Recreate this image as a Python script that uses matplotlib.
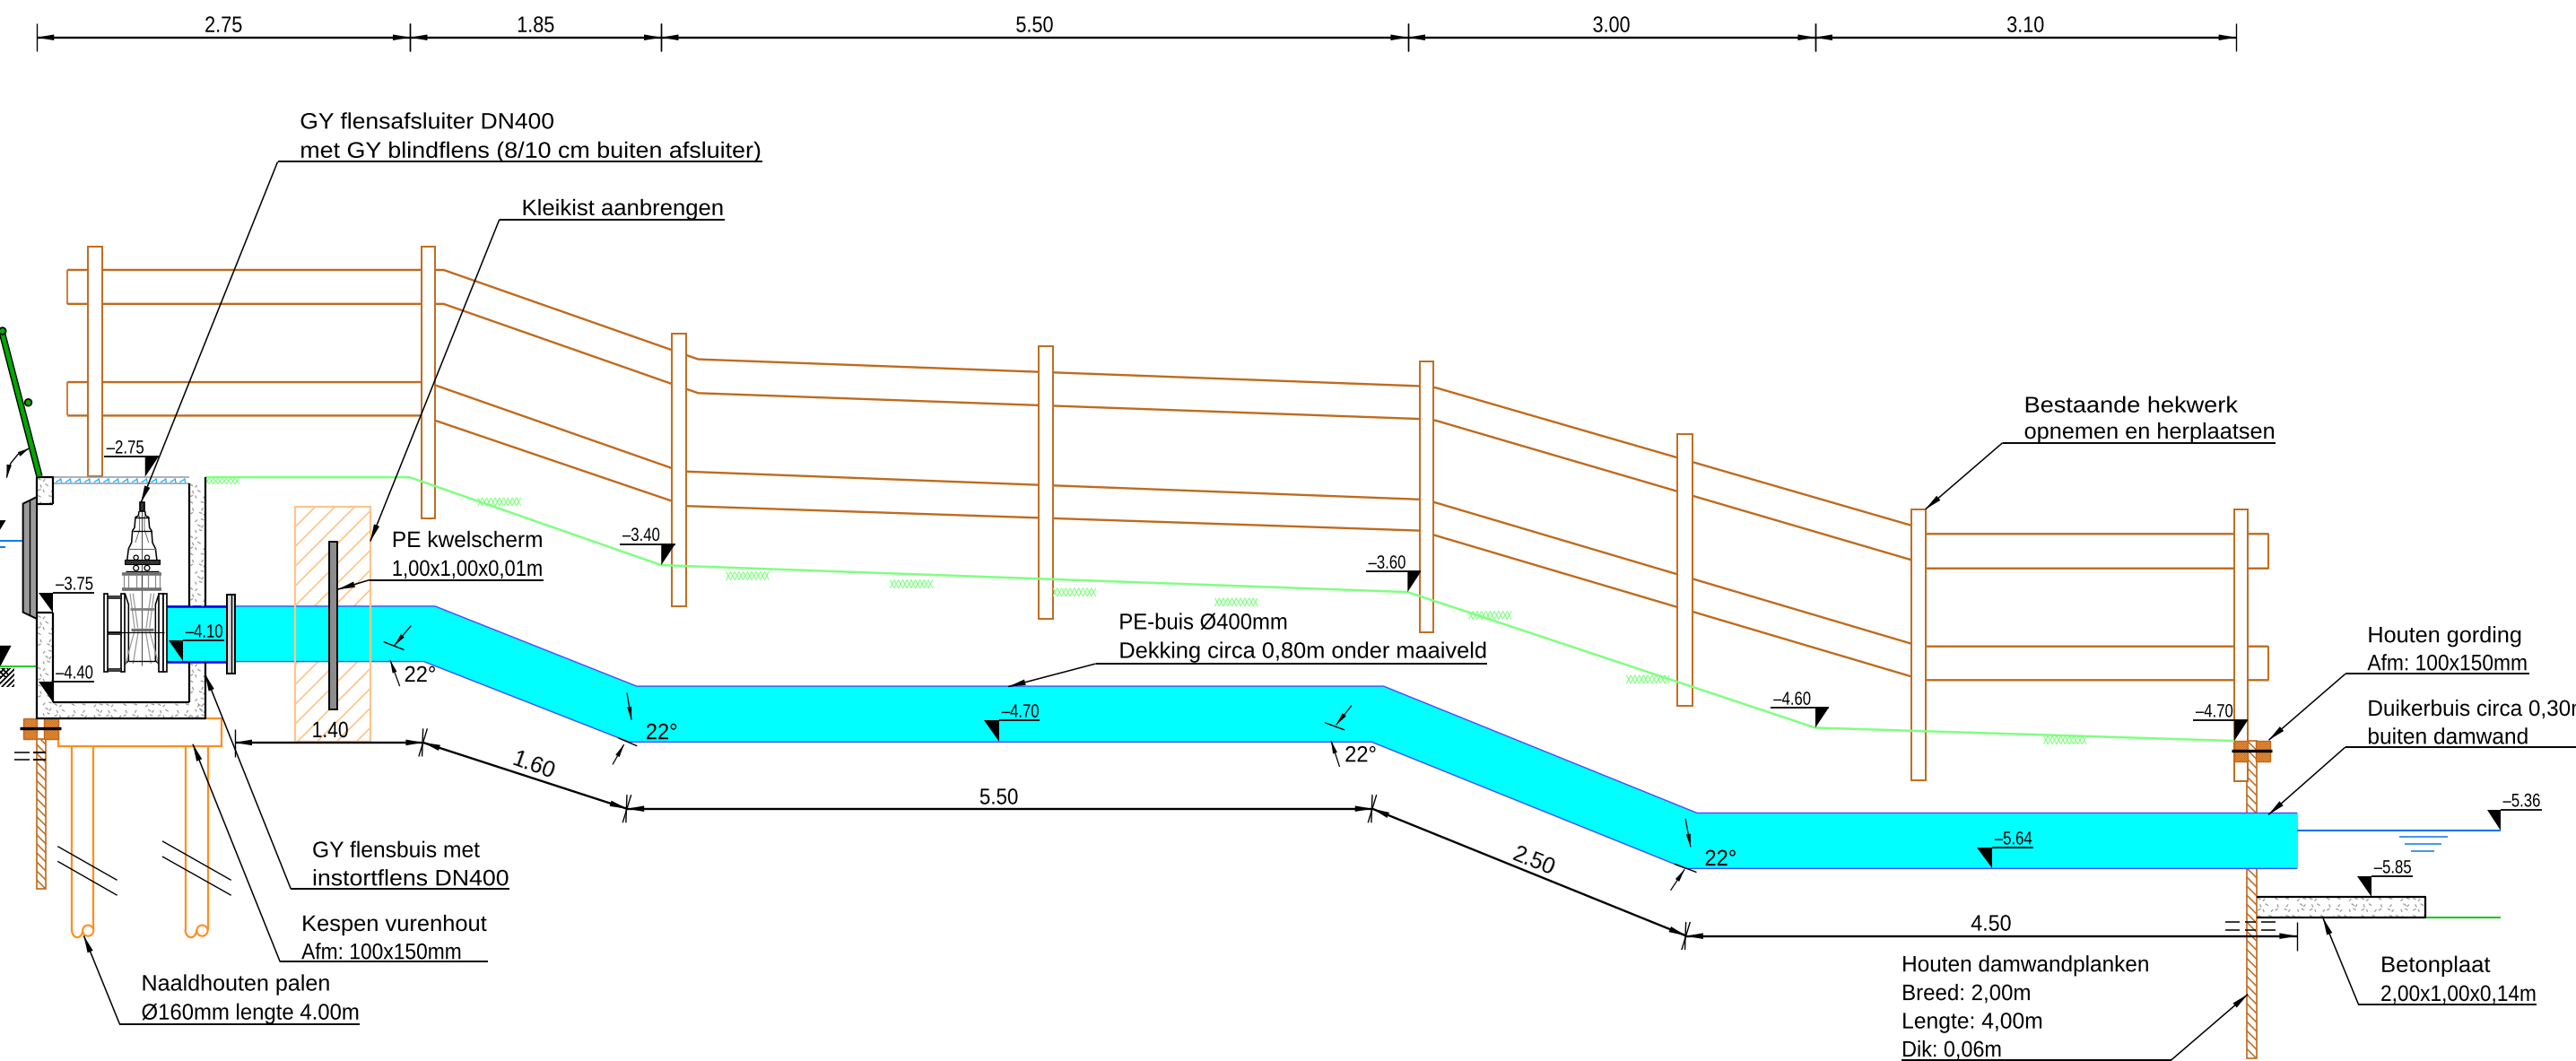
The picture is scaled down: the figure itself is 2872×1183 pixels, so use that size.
import numpy as np
import matplotlib
matplotlib.use('Agg')
from matplotlib import pyplot as plt
from matplotlib.patches import Polygon, Rectangle, Circle
from matplotlib.patheffects import AbstractPathEffect
from matplotlib.transforms import Affine2D

# all drawing coordinates: 1568 wide sheet units, y downwards
K = 2872 / 1568

BROWN = '#C06A1C'
ORANGE = '#FF8E1E'
LIGHT_ORANGE = '#FFC48A'
LGREEN = '#80FF80'
CYAN = '#00FFFF'
EDGE_BLUE = '#4A4AFF'
WATER = '#0A78F0'

# top dimension chain (m)
top_lengths = [2.75, 1.85, 5.50, 3.00, 3.10]
top_labels = ['2.75', '1.85', '5.50', '3.00', '3.10']
top_start = 22.4
top_scale = 82.63

# fence posts: left, right, top, bottom
posts = [(53.3, 62, 150, 290), (256.4, 265, 150, 315.5), (408.8, 417.6, 203, 369),
         (632.2, 640.8, 211, 376.7), (864, 872.6, 220, 385), (1021, 1030, 264, 429.5),
         (1163.6, 1172.2, 310, 475), (1359.8, 1368.3, 310, 475.6)]

# fence rails
rail_x = [41, 270, 425, 864, 874, 1164, 1172, 1381]
rail_1 = [164.3, 164.3, 218.7, 235, 236, 320, 325, 325]
rail_2 = [185, 185, 239.3, 255, 256, 341, 346, 346]
rail_x_low = [41, 256, 265, 409, 417, 864, 874, 1164, 1172, 1381]
rail_3 = [232.6, 232.6, 234.5, 285, 287, 304, 306, 392, 393.5, 393.5]
rail_4 = [253, 253, 256, 305, 308, 323, 326, 412, 414, 414]

# ground level
ground_x = [125, 249.3, 402.5, 856.8, 1105, 1360]
ground_y = [290.5, 290.5, 344, 360.4, 443, 451]
grass_x = [291, 442, 541.7, 641, 739.5, 894, 990, 1244]
grass_y = [303, 348, 353, 358, 364, 372, 411, 448]

# culvert pipe outline
pipe_top_x = [101.4, 264.8, 387.5, 842.2, 1033, 1398.3]
pipe_top_y = [369, 369, 417.7, 417.7, 494.9, 494.9]
pipe_bot_x = [1398.3, 1026, 835, 383, 258, 101.4]
pipe_bot_y = [528.7, 528.7, 451.7, 451.7, 402.7, 402.7]

# level marks: text, line start, line end, line y, triangle x-left, triangle x-right, tip x, tip y
levels = [('–2.75', 63.3, 96.5, 278, 88.3, 96.5, 88.3, 290.3),
          ('–3.75', 32.4, 57.3, 361, 23.7, 32.4, 32.4, 373),
          ('–4.40', 32.4, 57.3, 415, 23.7, 32.4, 32.4, 427.6),
          ('–4.10', 111.4, 136.5, 390, 102.8, 111.4, 111.4, 402.5),
          ('–3.40', 377.4, 411, 331.2, 402.5, 411, 402.5, 344),
          ('–3.60', 831.4, 864.9, 348, 856.8, 864.9, 856.8, 360.4),
          ('–4.60', 1078, 1113, 431, 1105, 1113, 1105, 443),
          ('–4.70', 1335, 1368.2, 438.5, 1360, 1368.2, 1360, 451),
          ('–5.36', 1522, 1547, 493, 1513.7, 1522, 1522, 505.7),
          ('–5.85', 1443.5, 1468.4, 533.5, 1435, 1443.5, 1443.5, 545.8),
          ('–4.70', 608.2, 633, 438.6, 599, 608.2, 608.2, 451.7),
          ('–5.64', 1212.6, 1237.5, 516, 1203.3, 1212.6, 1212.6, 528.7)]

# callouts: text lines, x, baselines, line widths, underline start, end, y, arrow tip
callouts = [
    (['GY flensafsluiter DN400', 'met GY blindflens (8/10 cm buiten afsluiter)'], 182.5, [78.3, 96], [155, 281], 169, 464, 98.5, (85.8, 306)),
    (['Kleikist aanbrengen'], 317.5, [131], [123], 304, 441, 133.6, (225.4, 329.5)),
    (['Bestaande hekwerk', 'opnemen en herplaatsen'], 1232, [251, 267], [130, 153], 1219, 1385, 269.5, (1172, 310)),
    (['PE kwelscherm', '1,00x1,00x0,01m'], 238.5, [333, 350.5], [92, 92], 225, 331, 353, (205.6, 358.8)),
    (['PE-buis Ø400mm', 'Dekking circa 0,80m onder maaiveld'], 681, [383, 400.5], [103, 224], 667, 905, 404, (613.8, 418)),
    (['Houten gording', 'Afm: 100x150mm'], 1441, [391, 408], [94, 97.5], 1427.6, 1539.5, 410.2, (1381, 450.5)),
    (['Duikerbuis circa 0,30m', 'buiten damwand'], 1441, [435.7, 452.8], [135, 98], 1427.6, 1568, 454.8, (1380.8, 496)),
    (['GY flensbuis met', 'instortflens DN400'], 190, [521.8, 539], [102, 120], 177, 310, 541, (124.8, 410.3)),
    (['Kespen vurenhout', 'Afm: 100x150mm'], 183.5, [566.7, 583.8], [113, 97.5], 170.5, 297, 585.5, (117.4, 453)),
    (['Naaldhouten palen', 'Ø160mm lengte 4.00m'], 86, [603, 620.6], [115, 132.8], 72.8, 219, 623.3, (51, 569.6)),
    (['Houten damwandplanken', 'Breed: 2,00m', 'Lengte: 4,00m', 'Dik: 0,06m'], 1157.5, [591.4, 608.8, 626, 643.2], [150.7, 78.7, 86, 61], 1157.5, 1321.6, 645.3, (1368.3, 605.2)),
    (['Betonplaat', '2,00x1,00x0,14m'], 1449, [591.7, 609.3], [66.7, 95], 1435.6, 1544, 611.4, (1414, 558.8)),
]
# this callout's leader leaves at the right end of its underline
right_leaders = ['Houten damwandplanken']

# speckle motif for concrete: x, y, dx, dy within one tile
speckle_motif = [(1, 1, 1.2, .7), (4, 2.5, .8, -.9), (7.5, 1, 1.3, .4), (2.2, 5, .5, 1.2), (5.5, 4.5, 1.3, .8),
                 (8.5, 5, -.7, 1), (1, 8.2, 1.2, -.6), (4, 8, .4, 1), (6.5, 7.5, 1.2, .5), (9, 9, .7, -.9)]
speckle_tile = 10.5

plt.rcParams['font.family'] = ['Liberation Sans', 'DejaVu Sans']

fig = plt.figure(figsize=(28.72, 11.83), dpi=100)
ax = fig.add_axes([0, 0, 1, 1])
ax.set_xlim(0, 1568)
ax.set_ylim(1183 / K, 0)
ax.axis('off')
renderer = fig.canvas.get_renderer()


class Squeeze(AbstractPathEffect):
    # CAD lettering is narrower than any installed font: scale glyphs in x only
    def __init__(self, sx):
        super().__init__()
        self.sx = sx

    def draw_path(self, renderer, gc, tpath, affine, rgbFace=None):
        renderer.draw_path(gc, tpath, Affine2D().scale(self.sx, 1) + affine, rgbFace)


def line(xs, ys, color='black', lw=1.4, z=5, **kw):
    ax.plot(xs, ys, color=color, lw=lw, zorder=z, solid_capstyle=kw.pop('cap', 'butt'), **kw)


def arrow(tip, tail, length=10.5, width=3.6, z=7):
    tip, tail = np.array(tip, float), np.array(tail, float)
    d = (tail - tip) / np.hypot(*(tail - tip))
    n = np.array([-d[1], d[0]])
    ax.add_patch(Polygon([tip, tip + d * length + n * width / 2, tip + d * length - n * width / 2],
                         fc='black', ec='none', zorder=z))


def text(x, y, s, size=18, width=None, center=False, rot=0, z=9):
    if center and width:
        x = x - width / 2
    t = ax.text(x, y, s, fontsize=size, ha='center' if center and not width else 'left', va='baseline',
                rotation=rot, rotation_mode='anchor', zorder=z, color='black')
    if width:
        t.set_path_effects([Squeeze(width * K / t.get_window_extent(renderer).width)])
    return t


def hatch(x0, y0, x1, y1, step, direction=1, color=BROWN, lw=.9, z=4):
    clip = Rectangle((x0, y0), x1 - x0, y1 - y0, transform=ax.transData)
    h = y1 - y0
    for c in np.arange(x0 - h, x1 + h, step):
        if direction > 0:
            art, = ax.plot([c, c + h], [y1, y0], color=color, lw=lw, zorder=z)
        else:
            art, = ax.plot([c, c + h], [y0, y1], color=color, lw=lw, zorder=z)
        art.set_clip_path(clip)


def speckle(x0, y0, x1, y1, z=4):
    clip = Rectangle((x0, y0), x1 - x0, y1 - y0, transform=ax.transData)
    for i, ox in enumerate(np.arange(x0, x1, speckle_tile)):
        for j, oy in enumerate(np.arange(y0, y1, speckle_tile)):
            for m, (a, b, dx, dy) in enumerate(speckle_motif):
                if (i + j + m) % 3 == 2:
                    continue
                art, = ax.plot([ox + a, ox + a + dx], [oy + b, oy + b + dy], color='#9A9A9A', lw=.9, zorder=z)
                art.set_clip_path(clip)


def rect(x0, y0, x1, y1, fc='white', ec='black', lw=1.4, z=5):
    ax.add_patch(Rectangle((x0, y0), x1 - x0, y1 - y0, fc=fc, ec=ec, lw=lw, zorder=z))


def grass(x, y, w=26, h=5):
    for c in np.arange(x, x + w, 2.6):
        line([c, c + 2.6], [y + h, y], color=LGREEN, lw=.8, z=3)
        line([c, c + 2.6], [y, y + h], color=LGREEN, lw=.8, z=3)


# ---- fence
line(rail_x, rail_1, color=BROWN, lw=1.7, z=2)
line(rail_x, rail_2, color=BROWN, lw=1.7, z=2)
line(rail_x_low, rail_3, color=BROWN, lw=1.7, z=2)
line(rail_x_low, rail_4, color=BROWN, lw=1.7, z=2)
line([41, 41], [164.3, 185], color=BROWN, lw=1.2, z=2)
line([41, 41], [232.6, 253], color=BROWN, lw=1.2, z=2)
line([1381, 1381], [325, 346], color=BROWN, lw=1.4, z=2)
line([1381, 1381], [393.5, 414], color=BROWN, lw=1.4, z=2)
for l, r, t, b in posts:
    rect(l, t, r, b, ec=BROWN, lw=1.4, z=3)

# ---- ground
line(ground_x, ground_y, color=LGREEN, lw=1.8, z=3)
for gx, gy in zip(grass_x, grass_y):
    grass(gx, gy)
grass(117, 291, w=27, h=3.6)

# ---- clay box, pipe and screen
ax.add_patch(Polygon([(22.4, 290.3), (124.8, 290.3), (124.8, 437.4), (22.4, 437.4)], fc='white', ec='none', zorder=3.1))
hatch(179.8, 308.6, 225.7, 451.5, 12, 1, color=LIGHT_ORANGE, lw=1.2, z=1.5)
ax.add_patch(Polygon(list(zip(pipe_top_x + pipe_bot_x, pipe_top_y + pipe_bot_y)), fc=CYAN, ec='none', zorder=3.2))
line(pipe_top_x, pipe_top_y, color=EDGE_BLUE, lw=1, z=3.3)
line(pipe_bot_x, pipe_bot_y, color=EDGE_BLUE, lw=1, z=3.3)
line([1398.3, 1398.3], [494.9, 528.7], color='#80C0FF', lw=1, z=3.3)
line([101.4, 138.3], [369, 369], color='#0000F0', lw=1.8, z=3.4)
line([101.4, 138.3], [402.7, 402.7], color='#0000F0', lw=1.8, z=3.4)
ax.add_patch(Rectangle((179.8, 308.6), 45.9, 142.9, fc='none', ec=LIGHT_ORANGE, lw=1.6, zorder=3.5))
rect(200.2, 329.7, 205.1, 431.7, fc='#8C8C8C', lw=1.4, z=5)
rect(138.3, 361.8, 143.2, 409.8, fc='#D8D8D8', lw=1.4, z=5)
line([140.7, 140.7], [361.8, 409.8], color='black', lw=1, z=5.1)

# ---- concrete chamber
speckle(22.4, 290.3, 32.4, 307)
speckle(22.4, 374, 32.4, 437.4)
speckle(32.4, 427.6, 124.8, 437.4)
speckle(115, 294, 124.8, 369)
speckle(115, 403, 124.8, 437)
for s, e, y in [(32.4, 115, 290.3), (32.4, 115, 294.5)]:
    line([s, e], [y, y], color='#9A9A9A', lw=1.1, z=5)
for bx in np.arange(34, 115, 5.8):
    line([bx, bx + 3.2], [293.5, 291.6], color='#28B4FF', lw=1, z=5)
    line([bx + 3, bx + 3.4], [291.2, 294], color='#28B4FF', lw=1, z=5)
outer = [(32.4, 307), (32.4, 290.3), (22.4, 290.3), (22.4, 437.4), (124.8, 437.4), (124.8, 402.7)]
line(*zip(*outer), lw=1.6, z=6)
line([22.4, 32.4], [307, 307], lw=1.6, z=6)
line([124.8, 124.8], [369, 290.3], lw=1.6, z=6)
line([115, 115], [294.5, 369], lw=1.6, z=6)
line([115, 115], [402.7, 427.6], lw=1.6, z=6)
line([32.4, 115], [427.6, 427.6], lw=1.6, z=6)
line([32.4, 32.4], [373, 427.6], lw=1.6, z=6)
line([22.4, 32.4], [373, 373], lw=1.6, z=6)

# ---- flap gate and handle, left edge
ax.add_patch(Polygon([(14, 306.6), (22.4, 302.5), (22.4, 376.7), (14, 372.7)], fc='#9A9A9A', ec='black', lw=1.4, zorder=6))
line([18.2, 18.2], [304.5, 374.7], lw=1, z=6.1)
line([1, 24], [201.5, 290], lw=5.4, z=6)
line([1, 24], [201.5, 290], color='#00A800', lw=3.4, z=6.1)
ax.add_patch(Circle((17.2, 245), 2.1, fc='#00A800', ec='black', lw=1.2, zorder=6.2))
ax.add_patch(Circle((1.5, 201.5), 2.1, fc='#00A800', ec='black', lw=1.2, zorder=6.2))
line([17.6, 11, 6.5, 4], [273, 276.5, 282, 290.8], lw=1)
arrow((17.6, 273), (9, 278), length=7, width=3)
arrow((4, 290.8), (6, 281), length=8, width=3)
line([0, 14], [329.3, 329.3], color=WATER, lw=1.4)
line([0, 3.2], [333.3, 333.3], color=WATER, lw=1.4)
ax.add_patch(Polygon([(0, 316.7), (3.6, 316.7), (0, 322.5)], fc='black', ec='none'))
ax.add_patch(Polygon([(0, 393), (6.9, 393), (0, 406)], fc='black', ec='none'))
line([0, 22.4], [405.9, 405.9], color='#00C000', lw=1.2)
hatch(0, 406.5, 9, 418, 3.2, 1, color='black', lw=1.3, z=4)
hatch(0, 406.5, 5, 412, 3.2, -1, color='black', lw=1.3, z=4)


def vx(x):
    return (x / 3 + 100) / K


def vy(y):
    return (y / 3 + 550) / K


def vline(xs, ys, color='black', lw=.8, z=6):
    line([vx(a) for a in xs], [vy(b) for b in ys], color=color, lw=lw, z=z)


def vrect(x0, y0, x1, y1, fc='white', lw=1.2, z=6):
    rect(vx(x0), vy(y0), vx(x1), vy(y1), fc=fc, lw=lw, z=z)


for mx in (1, -1):
    m = lambda x: 175 + mx * x
    vline([m(10), m(12), m(22), m(25), m(32), m(35), m(45), m(50)],
          [60, 75, 80, 115, 125, 165, 185, 225], lw=1.1)
    vline([m(8), m(8), m(22)], [75, 120, 165], color='#555555', lw=.6)
    vline([m(57), m(45), m(45), m(58)], [335, 372, 560, 572], lw=1.1)
    vline([m(40), m(25)], [335, 450], color='#999999', lw=.9)
    vline([m(30), m(14)], [335, 450], color='#999999', lw=.9)
    vline([m(25), m(55)], [460, 570], color='#999999', lw=.9)
    vline([m(12), m(30)], [460, 570], color='#999999', lw=.9)
    for vv in (60, 45, 20, 0):
        vline([m(vv), m(vv)], [272, 322], color='#8A8A8A', lw=.9)
vline([175, 175], [30, 575], color='#444444', lw=.7)
vrect(167, 30, 183, 60, fc='#333333')
vline([153, 197], [80, 80], lw=1)
vline([143, 207], [125, 125], lw=1)
vline([128, 222], [185, 185], color='#666666', lw=.8)
vrect(116, 223, 234, 238, fc='#333333', lw=.8)
for bx in (155, 192):
    ax.add_patch(Circle((vx(bx), vy(215)), 1.4, fc='white', ec='black', lw=.9, zorder=6.5))
    ax.add_patch(Circle((vx(bx), vy(250)), 1.6, fc='white', ec='black', lw=.9, zorder=6.5))
vline([120, 230], [260, 260], lw=1)
vline([108, 240], [271, 271], color='#707070', lw=2.6)
vline([108, 240], [322, 322], color='#707070', lw=2.6)
vline([135, 215], [388, 388], color='#808080', lw=2)
vline([138, 212], [455, 455], color='#707070', lw=2.4)
vline([130, 220], [560, 560], lw=1)
vrect(48, 335, 60, 598)
vrect(105, 335, 118, 598)
vrect(232, 335, 245, 598)
vrect(245, 335, 258, 598)
vrect(60, 341, 105, 350, fc='#444444', lw=.5)
vrect(60, 462, 105, 471, fc='#444444', lw=.5)
vrect(60, 584, 105, 594, fc='#444444', lw=.5)
vline([60, 250], [466, 466], lw=.8, z=6.3)

# ---- timber under chamber, piles and sheet piling
rect(35.5, 437.3, 134.7, 454, ec=ORANGE, lw=1.6, z=3)
for l, r in [(43.7, 57), (112.8, 126.5)]:
    line([l, l], [454, 566], color=ORANGE, lw=1.6, z=3)
    line([r, r], [454, 566], color=ORANGE, lw=1.6, z=3)
    t = np.linspace(0, np.pi, 24)
    cx = l + (r - l) * 0.25
    rx = (r - l) * 0.25
    line(cx - rx * np.cos(t), 566 + 4.6 * np.sin(t), color=ORANGE, lw=1.6, z=3)
    ax.add_patch(Circle((r - 3.4, 566.5), 3.3, fc='white', ec=ORANGE, lw=1.5, zorder=3))
for x0, x1, ya, yb in [(35.1, 71.3, 515.2, 535.8), (35.1, 71.3, 524.3, 545), (98.8, 140.7, 512, 535.8), (98.8, 140.7, 521.4, 545)]:
    line([x0, x1], [ya, yb], lw=1)

for x0, x1, y0, y1 in [(22.2, 27.7, 450, 541), (1367.9, 1373.6, 451, 495), (1367.9, 1373.6, 528.7, 644.2)]:
    rect(x0, y0, x1, y1, ec=BROWN, lw=1.2, z=2.5)
    hatch(x0, y0, x1, y1, 5.5, -1, lw=1.1, z=2.6)
for x0, x1, y0, y1 in [(14, 22.6, 437.2, 450), (27, 35.5, 437.2, 450), (1360, 1368.4, 451, 463.5), (1373.2, 1381.6, 451, 463.5)]:
    rect(x0, y0, x1, y1, fc='#E9A050', ec=BROWN, lw=1, z=4.5)
    hatch(x0, y0, x1, y1, 1.4, 1, color='#C86414', lw=.7, z=4.6)
line([11.8, 37.3], [443.4, 443.4], lw=2.4, z=7)
line([1358.3, 1383], [456.7, 456.7], lw=2.4, z=7)
for y in (458, 462.5):
    line([8.7, 18], [y, y], lw=1.1, z=7)
    rect(20, y - .6, 27.7, y + .6, fc='black', ec='none', z=7)
for y in (561.4, 565.9):
    for a, b in [(1354.7, 1363.3), (1366.3, 1373.3), (1376.2, 1385)]:
        line([a, b], [y, y], lw=1.1, z=7)

# ---- downstream water and slab
line([1398.3, 1522], [505.7, 505.7], color=WATER, lw=1.5)
for a, b, y in [(1460.3, 1490, 509.4), (1463.7, 1486, 513.9), (1467.7, 1482, 518)]:
    line([a, b], [y, y], color=WATER, lw=1.1)
speckle(1373.6, 545.8, 1476.4, 558.4)
line([1373.6, 1476.4, 1476.4, 1373.6], [545.8, 545.8, 558.4, 558.4], lw=1.6, z=6)
line([1476.4, 1522], [558.4, 558.4], color='#00C800', lw=1.4)

# ---- top dimension chain
x = top_start
for length, lab in zip(top_lengths, top_labels):
    x1 = x + length * top_scale
    line([x, x1], [22.8, 22.8], lw=1.7)
    line([x, x], [14.2, 31.3], lw=1)
    line([x1, x1], [14.2, 31.3], lw=1)
    arrow((x, 22.8), (x1, 22.8))
    arrow((x1, 22.8), (x, 22.8))
    text((x + x1) / 2, 19.5, lab, width=23, center=True)
    x = x1

# ---- lower dimension chain
line([142.9, 142.9], [444, 460.6], lw=1)
line([142.9, 257.5], [452, 452], lw=1.7)
arrow((142.9, 452), (257.5, 452))
arrow((257.5, 452), (142.9, 452))
line([257.5, 381.6], [452, 492.3], lw=1.7)
arrow((257.5, 452), (381.6, 492.3))
arrow((381.6, 492.3), (257.5, 452))
line([381.6, 835.3], [492.3, 492.3], lw=1.7)
arrow((381.6, 492.3), (835.3, 492.3))
arrow((835.3, 492.3), (381.6, 492.3))
line([835.3, 1026.2], [492.3, 569.6], lw=1.7)
arrow((835.3, 492.3), (1026.2, 569.6))
arrow((1026.2, 569.6), (835.3, 492.3))
line([1026.2, 1398], [569.8, 569.8], lw=1.7)
arrow((1026.2, 569.8), (1398, 569.8))
arrow((1398, 569.8), (1026.2, 569.8))
line([1398, 1398], [561, 578.7], lw=1)
for px_, py_ in [(257.5, 452), (381.6, 492.3), (835.3, 492.3), (1026.2, 569.7)]:
    line([px_, px_ - .6], [py_ - 8.5, py_ + 8.5], lw=1)
    line([px_ + 2.6, px_ - 2.6], [py_ - 8.5, py_ + 8.5], lw=1)
text(201, 448.8, '1.40', width=22.4, center=True, z=5.5)
text(323, 469.5, '1.60', center=True, rot=-20)
text(608, 489.5, '5.50', width=23.7, center=True)
text(932, 528, '2.50', center=True, rot=-22)
text(1212, 566.5, '4.50', width=24.8, center=True)

# ---- 22 degree marks
angle_ticks = [((233.5, 390.7), (246, 395.6)), ((376.3, 449.2), (387.8, 454.1)),
               ((806.4, 439.9), (818.6, 444.4)), ((1019.3, 525.9), (1032.7, 531))]
angle_arrows = [((239.9, 393.1), (250.2, 380.9)), ((237.5, 401.8), (243.3, 417.7)),
                ((384.4, 438.2), (381.6, 421.7)), ((379.8, 453.2), (372.9, 465.4)),
                ((813.3, 441.3), (822.7, 429.5)), ((810.2, 450.8), (815.4, 466.8)),
                ((1029.1, 515.6), (1025.9, 498.3)), ((1025.4, 529.2), (1016.9, 542))]
angle_text = [(246, 415), (393, 450), (818.5, 463.7), (1037.6, 526.9)]
for a, b in angle_ticks:
    line([a[0], b[0]], [a[1], b[1]], lw=1)
for tip, tail in angle_arrows:
    line([tip[0], tail[0]], [tip[1], tail[1]], lw=.9)
    arrow(tip, tail, length=8, width=2.8)
for tx, ty in angle_text:
    text(tx, ty, '22°', width=19.5)

# ---- level marks
for lab, x0, x1, y, tl, tr, tipx, tipy in levels:
    line([x0, x1], [y, y], lw=1.3, z=8)
    ax.add_patch(Polygon([(tl, y), (tr, y), (tipx, tipy)], fc='black', ec='none', zorder=8))
    text(x0 + 1.5, y - 2, lab, size=15, width=23)

# ---- callouts
for lines_, tx, bases, widths, ux0, ux1, uy, tip in callouts:
    for s, b, w in zip(lines_, bases, widths):
        text(tx, b, s, width=w)
    line([ux0, ux1], [uy, uy], lw=1.4, z=8)
    start = ux1 if lines_[0] in right_leaders else ux0
    line([start, tip[0]], [uy, tip[1]], lw=1.1, z=8)
    arrow(tip, (start, uy), z=8)

fig.savefig('out.png', dpi=100)
